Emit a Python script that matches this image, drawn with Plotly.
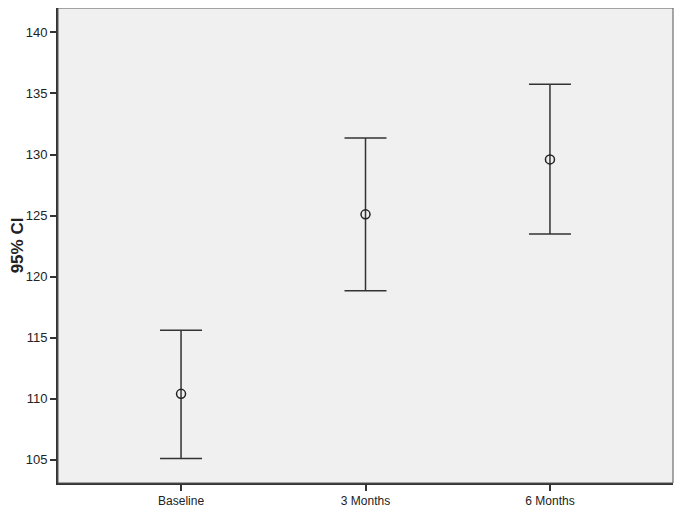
import plotly.graph_objects as go

groups = ["Baseline", "3 Months", "6 Months"]
means = [110.4, 125.1, 129.6]
upper = [115.6, 131.35, 135.75]
lower = [105.1, 118.85, 123.5]

err_plus = [u - m for u, m in zip(upper, means)]
err_minus = [m - l for m, l in zip(means, lower)]

fig = go.Figure()
fig.add_trace(go.Scatter(
    x=list(range(len(groups))),
    y=means,
    mode="markers",
    marker=dict(symbol="circle-open", size=9, color="#222", line=dict(width=1.5)),
    error_y=dict(type="data", symmetric=False, array=err_plus, arrayminus=err_minus,
                 color="#333", thickness=1.5, width=21),
    showlegend=False,
))

# page body adds an 8px margin, so the figure is sized a little smaller
fig.update_layout(
    width=677, height=508,
    margin=dict(l=50, r=12, t=0, b=33),
    paper_bgcolor="white",
    plot_bgcolor="#f0f0f0",
    font=dict(family="Liberation Sans, Arial", size=12, color="#222"),
    shapes=[dict(type="rect", xref="paper", yref="paper", x0=0, y0=0, x1=1, y1=1,
                 line=dict(color="#555", width=1))],
)
fig.update_xaxes(
    range=[-0.667, 2.667],
    tickvals=list(range(len(groups))), ticktext=groups,
    showgrid=False, zeroline=False, automargin=False,
    showline=True, linecolor="#333", linewidth=2,
    ticks="outside", ticklen=6, tickcolor="#333", tickwidth=2,
    tickfont=dict(size=12),
)
fig.update_yaxes(
    range=[103.1, 142.0],
    tickvals=[105, 110, 115, 120, 125, 130, 135, 140],
    showgrid=False, zeroline=False, automargin=False,
    showline=True, linecolor="#333", linewidth=2,
    ticks="outside", ticklen=6, tickcolor="#333", tickwidth=2,
    tickfont=dict(size=13),
    title=dict(text="<b>95% CI</b>", font=dict(size=17), standoff=0),
)

fig.write_html("out.html")
